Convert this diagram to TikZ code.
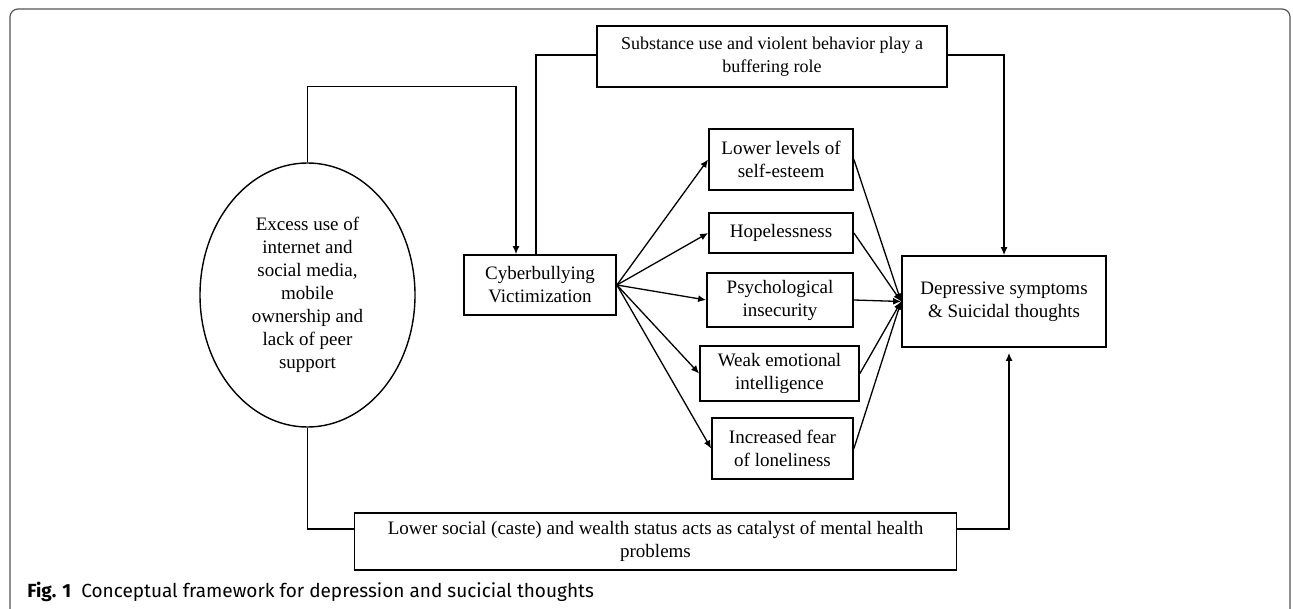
\documentclass[tikz,border=0pt]{standalone}
\usepackage{fontspec}
\setmainfont{Liberation Serif}
\newfontfamily\capfont{Fira Sans}
\usetikzlibrary{arrows.meta,positioning,shapes.geometric}
\definecolor{framegray}{HTML}{555555}

\begin{document}
\begin{tikzpicture}[
  x=0.5pt,y=-0.5pt,
  box/.style={draw,line width=0.9pt,align=center,inner sep=2pt,font=\fontsize{9.5}{11.5}\selectfont},
  oval/.style={draw,line width=0.7pt,ellipse,align=center,inner sep=0pt,font=\fontsize{9.5}{11.5}\selectfont},
  arrow/.style={-{Latex[length=4pt,width=3.5pt]},line width=0.65pt},
  link/.style={line width=0.65pt}
]
\useasboundingbox (0,0) rectangle (1293,609);
\draw[framegray,line width=0.6pt,rounded corners=4pt] (10,609) -- (10,9) -- (1290,9) -- (1290,609);

\node[oval,minimum width=107.5pt,minimum height=132pt] (excess) at (307.5,295)
  {Excess use of\\internet and\\social media,\\mobile\\ownership and\\lack of peer\\support};
\node[box,minimum width=76pt,minimum height=30pt] (cyber) at (540,285) {Cyberbullying\\Victimization};
\node[box,minimum width=175pt,minimum height=30.5pt,font=\fontsize{9}{11.5}\selectfont] (subst) at (772,56.5)
  {Substance use and violent behavior play a\\buffering role};
\node[box,minimum width=102pt,minimum height=45.5pt] (depress) at (1004,301.5)
  {Depressive symptoms\\\& Suicidal thoughts};
\node[box,minimum width=72pt,minimum height=30.5pt] (esteem) at (781,159.5) {Lower levels of\\self-esteem};
\node[box,minimum width=72pt,minimum height=20pt] (hope) at (781,233) {Hopelessness};
\node[box,minimum width=73pt,minimum height=27pt] (insec) at (780,300) {Psychological\\insecurity};
\node[box,minimum width=79.5pt,minimum height=27.5pt] (emotion) at (779.5,373.5) {Weak emotional\\intelligence};
\node[box,minimum width=70.5pt,minimum height=30.5pt] (lonely) at (782.5,448.5) {Increased fear\\of loneliness};
\node[box,minimum width=301pt,minimum height=28.5pt] (status) at (655.5,541.5)
  {Lower social (caste) and wealth status acts as catalyst of mental health\\problems};

% top and bottom routes
\draw[arrow] (excess.north) -- ++(0,-76) -| ([xshift=-12pt]cyber.north);
\draw[link] ([xshift=-2pt]cyber.north) |- ([yshift=0.75pt]subst.west);
\draw[arrow] ([yshift=0.75pt]subst.east) -| (depress.north);
\draw[link] (excess.south) |- ([yshift=6.25pt]status.west);
\draw[arrow,shorten >=2.5pt] ([yshift=6.25pt]status.east) -| ([xshift=2.5pt]depress.south);

% fan out and in
\foreach \m in {esteem,hope,insec,emotion,lonely}{
  \draw[arrow] (cyber.east) -- (\m.west);
  \draw[arrow] (\m.east) -- (depress.west);
}

\node[anchor=base west,inner sep=0pt,font=\capfont\fontsize{9.5}{11}\selectfont] (caption) at (27,597)
  {\textbf{Fig. 1}\hspace{5pt}Conceptual framework for depression and sucicial thoughts};
\end{tikzpicture}
\end{document}
